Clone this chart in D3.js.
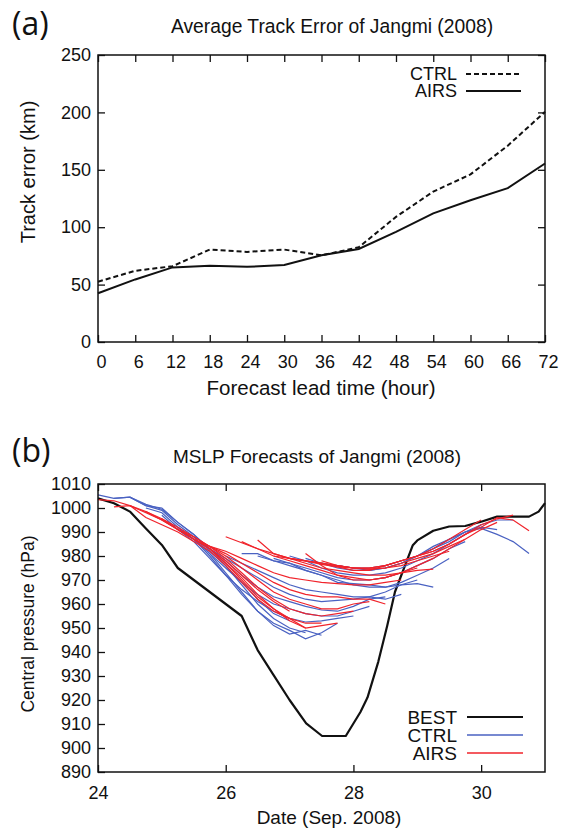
<!DOCTYPE html>
<html>
<head>
<meta charset="utf-8">
<script src="https://cdn.jsdelivr.net/npm/d3@7"></script>
<style>
	body { margin: 0; background: #fff; }
	svg text { font-family: "Liberation Sans", Arial, sans-serif; fill: #111; }
	svg text.panel-tag { font-family: "Open Sans", "Noto Sans", sans-serif; }
</style>
</head>
<body>
<svg id="chart" width="565" height="832"></svg>
<script>
/*
	(a) average track error, CTRL vs AIRS
	(b) MSLP forecasts, one line per 72 h run (6-hourly output)
*/
const leadHours = [0, 6, 12, 18, 24, 30, 36, 42, 48, 54, 60, 66, 72];
const ctrlError = [52.5, 62, 66, 80.5, 78.5, 80.5, 75.5, 82.5, 109, 131, 146, 171, 200.5];
const airsError = [42.5, 54.5, 65, 66.5, 65.5, 67, 75.5, 81, 96, 112, 123.5, 134, 155.5];
const errorTicks = [0, 50, 100, 150, 200, 250];

// best track [day of Sep, hPa]
const bestTrack = [
	[24.0, 1004], [24.25, 1002], [24.5, 998.5], [24.75, 991.5], [25.0, 984.6], [25.25, 975],
	[26.25, 955], [26.5, 940.8], [26.75, 930.4], [27.0, 920], [27.26, 910.3], [27.51, 905],
	[27.88, 905], [28.11, 915], [28.22, 921], [28.39, 936], [28.53, 951], [28.65, 965],
	[28.93, 984.5], [29.0, 986.5], [29.25, 990.5], [29.5, 992.3], [29.75, 992.5], [30.0, 994.3],
	[30.25, 996.4], [30.75, 996.4], [30.9, 998.5], [31.0, 1002]
];

// forecast start days (every 6 h), each run has 13 values: +0 h .. +72 h
const forecastStarts = [24.0, 24.25, 24.5, 24.75, 25.0, 25.25, 25.5, 25.75,
	26.0, 26.25, 26.5, 26.75, 27.0, 27.25, 27.5, 27.75];
const forecastStep = 0.25;

const ctrlRuns = [
	[1005.5, 1004, 1004.5, 1001, 1000, 994, 989, 982, 976, 969, 962, 956, 953],
	[1004, 1004.5, 1001.5, 999.5, 994, 989, 983, 976, 968, 960, 954, 950, 948],
	[1004.5, 1001, 999, 993, 988, 981, 973, 965, 957, 951, 947.5, 949, 947],
	[1000, 998, 992, 987, 980, 972, 964, 957, 952, 949, 945.5, 948, 952],
	[997, 991, 986, 979, 972, 966, 961, 957, 954, 952.5, 953, 954, 955],
	[992, 987, 981, 975, 969, 964, 960, 958, 956, 955, 955, 957, 959],
	[987, 983, 978, 972, 967, 963, 961, 959, 957.5, 957, 959, 962, 963],
	[983, 979, 975, 971, 967, 964, 962, 961, 961.5, 962, 963, 962, 964],
	[980, 977, 974, 971, 968, 966, 965, 964, 963, 963, 965, 968, 970],
	[981, 981, 978, 977, 974, 972, 969, 968.5, 968, 967, 968, 968.5, 967],
	[980, 978, 976, 974, 972, 970, 968, 967, 967, 969, 972, 975, 979],
	[979, 977, 975, 973, 971, 970, 970, 971, 973, 976, 979, 983, 986],
	[980, 978, 975, 973, 972, 972, 973, 975, 978, 981, 985, 989, 993],
	[979, 977, 975, 974, 974, 975, 977, 980, 983, 987, 990, 992, 991],
	[977, 976, 975, 975, 976, 978, 980, 983, 986, 990, 993, 995, 995],
	[976, 975, 974, 975, 977, 980, 984, 987, 990, 991.5, 989, 986, 981]
];

const airsRuns = [
	[1003.5, 1003, 1001, 998.5, 995.5, 991, 987, 983, 978, 972, 966, 961, 957],
	[1000.5, 1001, 998, 995, 991, 987, 983, 977, 970, 963, 958, 953, 950],
	[1001, 996, 993, 990, 986, 982, 976, 969, 962, 957, 954, 952, 952],
	[998.5, 995, 991, 987, 983, 977, 971, 964, 958, 954, 950, 951, 952],
	[995.5, 992, 988, 984, 979, 973, 967, 962, 958, 956, 955, 956, 957],
	[991, 988, 984, 980, 975, 970, 965, 962, 960, 958, 958, 960, 961],
	[987, 984, 981, 977, 973, 969, 966, 964, 963, 963, 962, 962, 960],
	[984, 982, 979, 976, 973, 971, 970, 969, 968.5, 968, 968, 969, 970],
	[988, 985.5, 983, 980, 978, 976, 974, 972, 971, 970, 971, 973, 975],
	[986, 983, 981, 979, 977, 975, 974, 973, 972, 972, 973, 974, 974.5],
	[986.7, 981, 979, 978, 976.5, 975.5, 975, 974.5, 975, 976, 978, 980, 982],
	[980, 979, 978, 977, 976, 975, 974.5, 975, 977, 979, 981, 984, 987],
	[979, 978, 977, 975.5, 974, 974, 976, 978, 980, 983, 987, 991, 995],
	[981, 976, 972, 970, 970, 971, 973, 976, 979, 983, 987, 991, 994],
	[978, 976, 975, 975, 976, 978, 980, 982, 985, 989, 993, 995.5, 997],
	[976, 975, 975, 976, 978, 980, 982, 985, 989, 992, 996, 995, 990.5]
];

const dayTicks = [24, 26, 28, 30];
const pressureTicks = d3.range(890, 1011, 10);

const svg = d3.select('#chart');
const left = 98, right = 545;
const tickFont = '18px';
const fmt = d3.format('d');

// small helper: strip d3's domain path, style ticks
function styleAxis(g) {
	g.select('.domain').remove();
	g.selectAll('.tick line').attr('stroke', '#111').attr('stroke-width', 1.3);
	g.selectAll('.tick text').attr('font-size', tickFont).attr('fill', '#111');
}

/* ---------------- panel (a) ---------------- */
const topA = 55, botA = 342;
const xA = d3.scaleLinear().domain([0, 72]).range([left, right]);
const yA = d3.scaleLinear().domain([0, 250]).range([botA, topA]);

const gA = svg.append('g');

gA.append('g').attr('transform', `translate(0,${botA})`)
	.call(d3.axisBottom(xA).tickValues(leadHours).tickFormat(fmt).tickSize(-7).tickPadding(13))
	.call(styleAxis)
	.selectAll('.tick text').attr('dx', 3);
gA.append('g').attr('transform', `translate(0,${topA})`)
	.call(d3.axisTop(xA).tickValues(leadHours).tickSize(-7).tickFormat(''))
	.call(styleAxis);
gA.append('g').attr('transform', `translate(${left},0)`)
	.call(d3.axisLeft(yA).tickValues(errorTicks).tickFormat(fmt).tickSize(-7).tickPadding(7))
	.call(styleAxis);
gA.append('g').attr('transform', `translate(${right},0)`)
	.call(d3.axisRight(yA).tickValues(errorTicks).tickSize(-7).tickFormat(''))
	.call(styleAxis);

gA.append('rect')
	.attr('x', left).attr('y', topA)
	.attr('width', right - left).attr('height', botA - topA)
	.attr('fill', 'none').attr('stroke', '#111').attr('stroke-width', 1.5);

const lineA = d3.line().x((d, i) => xA(leadHours[i])).y(d => yA(d));

gA.append('path').datum(ctrlError)
	.attr('d', lineA).attr('fill', 'none').attr('stroke', '#111')
	.attr('stroke-width', 2).attr('stroke-dasharray', '5,3');
gA.append('path').datum(airsError)
	.attr('d', lineA).attr('fill', 'none').attr('stroke', '#111')
	.attr('stroke-width', 2);

// legend (a)
[['CTRL', '5,3', 74], ['AIRS', null, 91]].forEach(([name, dash, y]) => {
	gA.append('text').attr('x', 457).attr('y', y).attr('dy', '0.35em')
		.attr('text-anchor', 'end').attr('font-size', '18px').text(name);
	gA.append('line').attr('x1', 466).attr('x2', 521).attr('y1', y).attr('y2', y)
		.attr('stroke', '#111').attr('stroke-width', 2)
		.attr('stroke-dasharray', dash);
});

gA.append('text').attr('x', 332).attr('y', 33).attr('text-anchor', 'middle')
	.attr('font-size', '19.3px').text('Average Track Error of Jangmi (2008)');
gA.append('text').attr('x', 321).attr('y', 395).attr('text-anchor', 'middle')
	.attr('font-size', '20.5px').text('Forecast lead time (hour)');
gA.append('text').attr('transform', 'translate(35,172) rotate(-90)')
	.attr('text-anchor', 'middle').attr('font-size', '20px').text('Track error (km)');
gA.append('text').attr('class', 'panel-tag').attr('x', 12).attr('y', 35)
	.attr('font-size', '32px').text('(a)');

/* ---------------- panel (b) ---------------- */
const topB = 484, botB = 772;
const xB = d3.scaleLinear().domain([24, 31]).range([left, right]);
const yB = d3.scaleLinear().domain([890, 1010]).range([botB, topB]);

const gB = svg.append('g');

gB.append('g').attr('transform', `translate(0,${botB})`)
	.call(d3.axisBottom(xB).tickValues(dayTicks).tickFormat(fmt).tickSize(-7).tickPadding(14))
	.call(styleAxis);
gB.append('g').attr('transform', `translate(0,${topB})`)
	.call(d3.axisTop(xB).tickValues(dayTicks).tickSize(-7).tickFormat(''))
	.call(styleAxis);
gB.append('g').attr('transform', `translate(${left},0)`)
	.call(d3.axisLeft(yB).tickValues(pressureTicks).tickFormat(fmt).tickSize(-7).tickPadding(7))
	.call(styleAxis);

const lineB = d3.line().x(d => xB(d[0])).y(d => yB(d[1]));

gB.append('path').datum(bestTrack)
	.attr('d', lineB).attr('fill', 'none').attr('stroke', '#111')
	.attr('stroke-width', 2.2).attr('stroke-linejoin', 'round');

const blue = '#4a62c2', red = '#f0232b';

function drawRuns(runs, color) {
	gB.append('g').selectAll('path')
		.data(runs)
		.enter().append('path')
			.attr('d', (vals, k) => lineB(vals.map((v, i) => [forecastStarts[k] + i * forecastStep, v])))
			.attr('fill', 'none')
			.attr('stroke', color)
			.attr('stroke-width', 1.2);
}
drawRuns(ctrlRuns, blue);
drawRuns(airsRuns, red);

gB.append('rect')
	.attr('x', left).attr('y', topB)
	.attr('width', right - left).attr('height', botB - topB)
	.attr('fill', 'none').attr('stroke', '#111').attr('stroke-width', 1.5);

// legend (b)
[['BEST', '#111', 2.2, 717], ['CTRL', blue, 1.3, 735], ['AIRS', red, 1.3, 753]].forEach(([name, c, w, y]) => {
	gB.append('text').attr('x', 457).attr('y', y).attr('dy', '0.35em')
		.attr('text-anchor', 'end').attr('font-size', '19px').text(name);
	gB.append('line').attr('x1', 467).attr('x2', 523).attr('y1', y).attr('y2', y)
		.attr('stroke', c).attr('stroke-width', w);
});

gB.append('text').attr('x', 317).attr('y', 463).attr('text-anchor', 'middle')
	.attr('font-size', '19px').text('MSLP Forecasts of Jangmi (2008)');
gB.append('text').attr('x', 329).attr('y', 824).attr('text-anchor', 'middle')
	.attr('font-size', '19px').text('Date (Sep. 2008)');
gB.append('text').attr('transform', 'translate(34,624) rotate(-90)')
	.attr('text-anchor', 'middle').attr('font-size', '17.5px').text('Central pressure (hPa)');
gB.append('text').attr('class', 'panel-tag').attr('x', 12).attr('y', 462)
	.attr('font-size', '32px').text('(b)');
</script>
</body>
</html>
